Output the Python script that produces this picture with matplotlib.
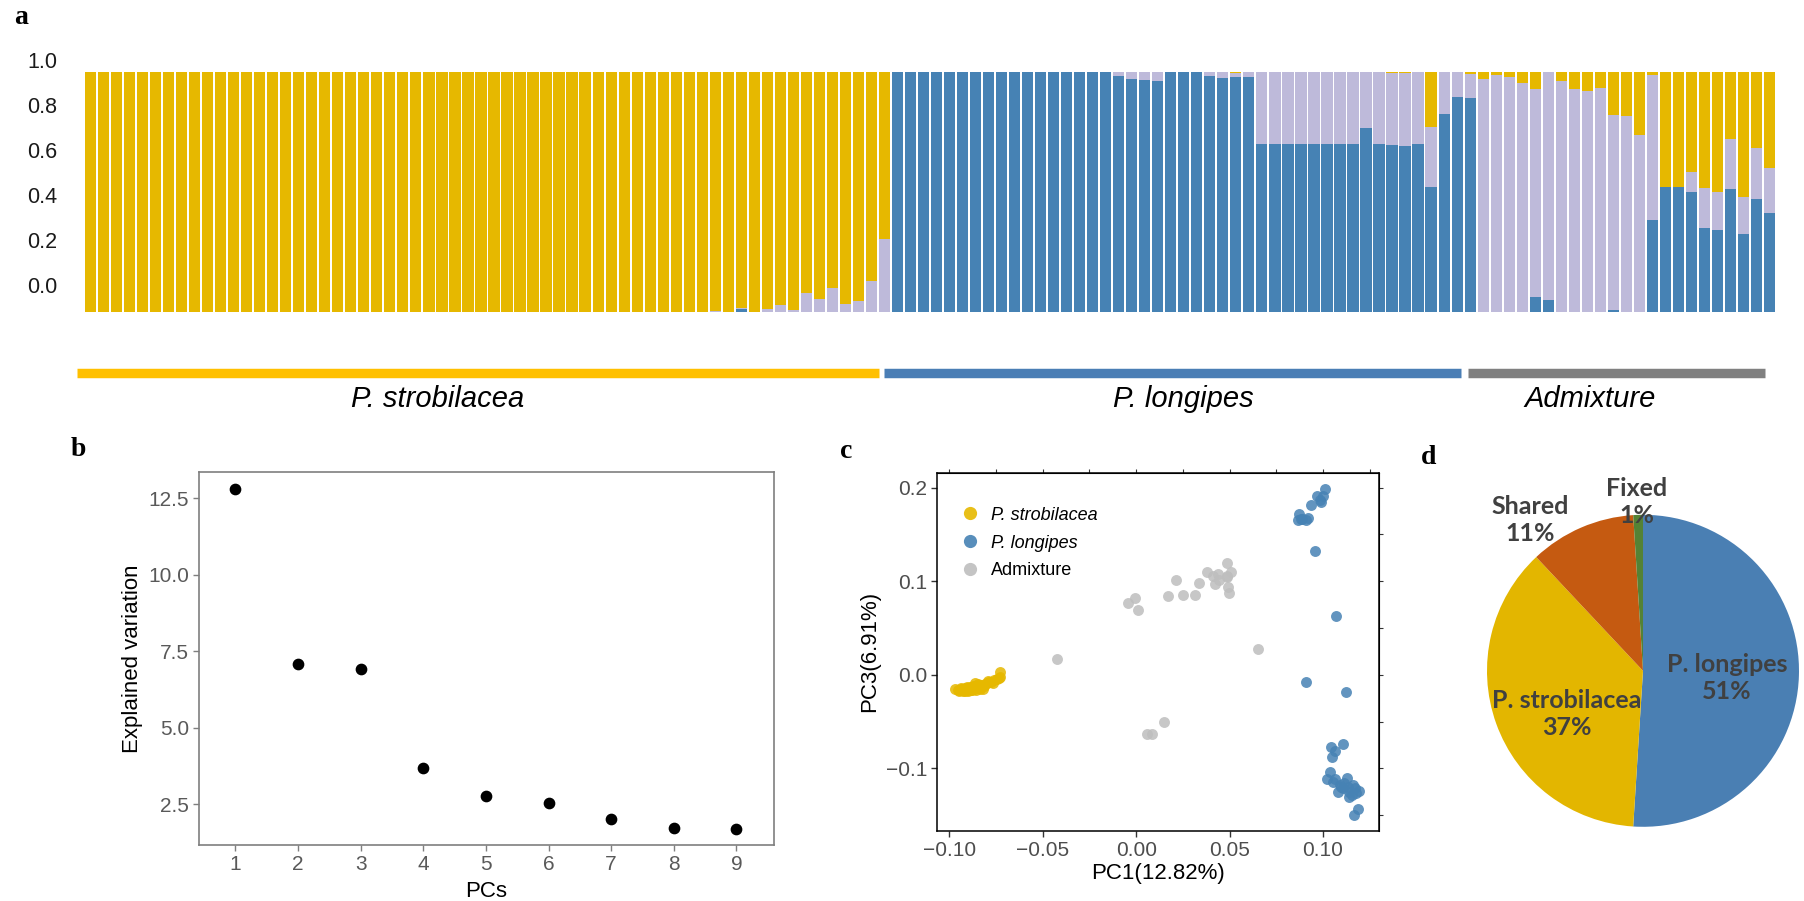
import numpy as np
import matplotlib
matplotlib.use("Agg")
import matplotlib.pyplot as plt
from matplotlib.lines import Line2D

plt.rcParams["font.family"] = ["Liberation Sans", "DejaVu Sans"]

# ---------------- data ----------------
# ADMIXTURE ancestry proportions (K=3) for 130 individuals
k_blue = ([0.0] * 50 + [0.01] + [0.0] * 11
          + [1.0] * 17
          + [0.983, 0.97, 0.965, 0.9625, 1.0, 1.0, 1.0, 0.982, 0.975, 0.979, 0.98,
             0.70, 0.70, 0.70, 0.697, 0.70, 0.70, 0.70, 0.697, 0.764, 0.70, 0.696,
             0.69, 0.70, 0.52, 0.822, 0.893, 0.89,
             0.0, 0.0, 0.0, 0.0, 0.06, 0.047, 0.0, 0.0, 0.0, 0.0, 0.005, 0.0, 0.0,
             0.383, 0.518, 0.518, 0.50, 0.35, 0.34, 0.512, 0.322, 0.469, 0.41])
k_purple = ([0.0] * 48
            + [0.003, 0.0, 0.007, 0.0, 0.01, 0.026, 0.008, 0.079, 0.053, 0.097,
               0.032, 0.046, 0.129, 0.303]
            + [0.0] * 17
            + [0.017, 0.03, 0.035, 0.0375, 0.0, 0.0, 0.0, 0.018, 0.025, 0.014, 0.02,
               0.30, 0.30, 0.30, 0.30, 0.30, 0.30, 0.30, 0.30, 0.236, 0.30, 0.30,
               0.305, 0.30, 0.251, 0.178, 0.107, 0.10,
               0.971, 0.986, 0.979, 0.954, 0.868, 0.953, 0.96, 0.928, 0.921, 0.931,
               0.813, 0.817, 0.736, 0.603, 0.0, 0.0, 0.083, 0.164, 0.16, 0.207,
               0.154, 0.215, 0.19])
k_yellow = ([1.0] * 48
            + [0.997, 1.0, 0.983, 1.0, 0.99, 0.974, 0.992, 0.921, 0.947, 0.903,
               0.968, 0.954, 0.871, 0.697]
            + [0.0] * 26
            + [0.007, 0.0, 0.0, 0.0, 0.0, 0.003, 0.0, 0.0, 0.0, 0.003, 0.0, 0.0,
               0.004, 0.005, 0.0, 0.229, 0.0, 0.0, 0.01,
               0.029, 0.014, 0.021, 0.046, 0.072, 0.0, 0.04, 0.072, 0.079, 0.069,
               0.182, 0.183, 0.264, 0.014, 0.482, 0.482, 0.417, 0.486, 0.50, 0.281,
               0.524, 0.315, 0.40])

group_names = ["P. strobilacea", "P. longipes", "Admixture"]

structure_ticks = ["0.0", "0.2", "0.4", "0.6", "0.8", "1.0"]

# scree plot
pcs = [1, 2, 3, 4, 5, 6, 7, 8, 9]
explained = [12.82, 7.09, 6.91, 3.70, 2.77, 2.53, 2.02, 1.74, 1.70]

# PCA scores (PC1, PC3)
stro_pc1 = [-0.0969, -0.0955, -0.0946, -0.0937, -0.0930, -0.0925, -0.0918, -0.0912,
            -0.0908, -0.0905, -0.0899, -0.0895, -0.0889, -0.0885, -0.0880, -0.0875,
            -0.0870, -0.0865, -0.0860, -0.0858, -0.0851, -0.0848, -0.0842, -0.0838,
            -0.0832, -0.0828, -0.0822, -0.0815, -0.0808, -0.0800, -0.0793, -0.0785,
            -0.0775, -0.0765, -0.0760, -0.0745, -0.0735, -0.0727, -0.0727, -0.0915,
            -0.0898, -0.0878, -0.0862, -0.0845, -0.0940, -0.0920]
stro_pc3 = [-0.0156, -0.0160, -0.0170, -0.0145, -0.0165, -0.0178, -0.0170, -0.0150,
            -0.0127, -0.0160, -0.0177, -0.0140, -0.0134, -0.0165, -0.0163, -0.0120,
            -0.0150, -0.0135, -0.0091, -0.0160, -0.0145, -0.0110, -0.0130, -0.0155,
            -0.0109, -0.0130, -0.0156, -0.0120, -0.0100, -0.0085, -0.0063, -0.0075,
            -0.0080, -0.0091, -0.0060, -0.0050, -0.0035, -0.0027, 0.0026, -0.0140,
            -0.0150, -0.0140, -0.0118, -0.0095, -0.0155, -0.0155]

long_pc1 = [0.1011, 0.0967, 0.0999, 0.0985, 0.0988, 0.0935, 0.0874, 0.0868, 0.0886,
            0.0910, 0.0919, 0.0880, 0.0956, 0.1070, 0.0910, 0.1122,
            0.1106, 0.1042, 0.1065, 0.1050, 0.1036, 0.1024, 0.1052, 0.1065, 0.1092,
            0.1127, 0.1109, 0.1082, 0.1136, 0.1163, 0.1172, 0.1195, 0.1154, 0.1141,
            0.1186, 0.1168, 0.1115, 0.1097, 0.1141, 0.1177]
long_pc3 = [0.1986, 0.1911, 0.1910, 0.1868, 0.1850, 0.1818, 0.1719, 0.1655, 0.1660,
            0.1655, 0.1680, 0.1670, 0.1323, 0.0628, -0.0074, -0.0184,
            -0.0737, -0.0776, -0.0812, -0.0879, -0.1043, -0.1111, -0.1143, -0.1118,
            -0.1179, -0.1107, -0.1214, -0.1250, -0.1197, -0.1179, -0.1214, -0.1243,
            -0.1286, -0.1304, -0.1435, -0.1500, -0.1160, -0.1203, -0.1250, -0.1267]

admix_pc1 = [-0.0042, -0.0006, 0.0009, 0.0171, 0.0215, 0.0253, 0.0314, 0.0338,
             0.0378, 0.0413, 0.0440, 0.0422, 0.0444, 0.0485, 0.0488, 0.0508, 0.0490,
             0.0497, 0.0485, -0.0424, 0.0654, 0.0149, 0.0057, 0.0086]
admix_pc3 = [0.0764, 0.0820, 0.0689, 0.0845, 0.1010, 0.0853, 0.0856, 0.0984,
             0.1102, 0.1056, 0.1077, 0.0967, 0.1013, 0.1198, 0.1056, 0.1102, 0.0935,
             0.0871, 0.1042, 0.0172, 0.0272, -0.0505, -0.0633, -0.0633]

# SNP categories
pie_labels = ["P. longipes", "P. strobilacea", "Shared", "Fixed"]
pie_values = [51, 37, 11, 1]

# ---------------- style ----------------
C_YEL = "#E6B800"
C_BLU = "#4682B4"
C_PUR = "#BEBADA"
C_GRY = "#BEBEBE"
W, H = 1804, 901

fig = plt.figure(figsize=(W / 100, H / 100), dpi=100)


def rect(x0, y0, x1, y1):
    """Pixel box (top-left origin) -> figure fraction rect."""
    return [x0 / W, 1 - y1 / H, (x1 - x0) / W, (y1 - y0) / H]


# ---------------- a: structure bar plot ----------------
ax_a = fig.add_axes(rect(84, 47.7, 1776, 311.7))
n = len(k_blue)
xs = np.arange(n)
b = np.array(k_blue)
p = np.array(k_purple)
y = np.array(k_yellow)
ax_a.bar(xs, b, width=0.86, color=C_BLU, linewidth=0)
ax_a.bar(xs, p, bottom=b, width=0.86, color=C_PUR, linewidth=0)
ax_a.bar(xs, y, bottom=b + p, width=0.86, color=C_YEL, linewidth=0)
ax_a.set_xlim(-0.5, n - 0.5)
ax_a.set_ylim(0, 1.1)
ax_a.set_yticks([0.111, 0.299, 0.486, 0.674, 0.861, 1.049])
ax_a.set_yticklabels(structure_ticks, fontsize=15.5, color="#1a1a1a")
ax_a.tick_params(axis="y", length=0, pad=19)
ax_a.set_xticks([])
for s in ax_a.spines.values():
    s.set_visible(False)

# group bars under the plot (extent in bar-index units) and their labels
line_spans = [(-1.0, 60.6), (61.0, 105.3), (105.8, 128.65)]
label_centres = [26.7, 84.0, 115.2]
line_colors = ["#FFC000", "#4A7EB5", "#808080"]
for name, (x0, x1), xc, c in zip(group_names, line_spans, label_centres, line_colors):
    ax_a.plot([x0, x1], [-0.255, -0.255], color=c, lw=6.8,
              solid_capstyle="butt", clip_on=False)
    ax_a.text(xc, -0.362, name, ha="center", va="center",
              fontsize=21, style="italic", color="black", clip_on=False)

# ---------------- b: scree plot ----------------
ax_b = fig.add_axes(rect(199, 472, 774, 845))
ax_b.scatter(pcs, explained, s=55, color="black", zorder=3)
ax_b.set_xlim(0.42, 9.6)
ax_b.set_ylim(1.17, 13.36)
ax_b.set_xticks(pcs)
ax_b.set_yticks([2.5, 5.0, 7.5, 10.0, 12.5])
ax_b.set_yticklabels(["2.5", "5.0", "7.5", "10.0", "12.5"])
ax_b.tick_params(labelsize=15, labelcolor="#595959", color="#7F7F7F",
                 length=4, width=1.0, pad=3)
for s in ax_b.spines.values():
    s.set_color("#7F7F7F")
    s.set_linewidth(1.2)
ax_b.set_xlabel("PCs", fontsize=16, labelpad=5)
ax_b.set_ylabel("Explained variation", fontsize=16, labelpad=4)

# ---------------- c: PCA ----------------
ax_c = fig.add_axes(rect(936.8, 472.7, 1379, 831))
sc_kw = dict(s=62, alpha=0.85, linewidths=0)
ax_c.scatter(stro_pc1, stro_pc3, color=C_YEL, **sc_kw)
ax_c.scatter(admix_pc1, admix_pc3, color=C_GRY, **sc_kw)
ax_c.scatter(long_pc1, long_pc3, color=C_BLU, **sc_kw)
ax_c.set_xlim(-0.1067, 0.130)
ax_c.set_ylim(-0.167, 0.216)
ax_c.set_xticks([-0.10, -0.05, 0.0, 0.05, 0.10])
ax_c.set_xticklabels(["\u22120.10", "\u22120.05", "0.00", "0.05", "0.10"])
ax_c.set_yticks([-0.1, 0.0, 0.1, 0.2])
ax_c.set_yticklabels(["\u22120.1", "0.0", "0.1", "0.2"])
ax_c.tick_params(labelsize=15, labelcolor="#4D4D4D", color="#333333",
                 length=4, width=1.0, pad=3)
for s in ax_c.spines.values():
    s.set_color("black")
    s.set_linewidth(1.1)
ax_c.set_xlabel("PC1(12.82%)", fontsize=16, labelpad=2)
ax_c.set_ylabel("PC3(6.91%)", fontsize=16, labelpad=4)
sec_x = ax_c.secondary_xaxis("top")
sec_x.set_xticks(np.arange(-0.10, 0.13, 0.025))
sec_x.tick_params(labeltop=False, length=3, color="#333333")
sec_y = ax_c.secondary_yaxis("right")
sec_y.set_yticks([-0.15, -0.10, -0.05, 0.0, 0.05, 0.10, 0.15, 0.20])
sec_y.tick_params(labelright=False, length=3, color="#333333")

handles = [Line2D([], [], marker="o", ls="none", ms=9.5, mec="none", mfc=c, alpha=0.9)
           for c in (C_YEL, C_BLU, C_GRY)]
leg = ax_c.legend(handles, group_names, loc="upper left",
                  bbox_to_anchor=(0.055, 0.905), frameon=False, fontsize=13,
                  handlelength=1.0, handletextpad=0.65, labelspacing=0.6,
                  borderpad=0, borderaxespad=0)
leg.get_texts()[0].set_style("italic")
leg.get_texts()[1].set_style("italic")

# ---------------- d: pie ----------------
ax_d = fig.add_axes(rect(1487, 514.8, 1799, 826.8))
ax_d.pie(pie_values, colors=["#4A7FB3", "#E3B600", "#C55A11", "#548235"],
         startangle=90, counterclock=False, radius=1.0,
         wedgeprops=dict(linewidth=0))
ax_d.set_xlim(-1, 1)
ax_d.set_ylim(-1, 1)
ax_d.set_aspect("equal")
ax_d.axis("off")
pie_text_pos = [(0.537, -0.046), (-0.489, -0.277), (-0.724, 0.967), (-0.04, 1.082)]
for lab, v, (tx, ty) in zip(pie_labels, pie_values, pie_text_pos):
    ax_d.text(tx, ty, f"{lab}\n{v}%", ha="center", va="center", fontsize=18,
              fontweight="bold", color="#404040", family=["Lato", "DejaVu Sans"],
              linespacing=1.25, clip_on=False)

# ---------------- panel letters ----------------
for letter, px, py in [("a", 21, 18), ("b", 78, 449), ("c", 846, 451), ("d", 1429, 457)]:
    fig.text(px / W, 1 - py / H, letter, ha="center", va="center", fontsize=20,
             fontweight="bold", family=["Liberation Serif", "DejaVu Serif"])

fig.savefig("out.png", dpi=100)
